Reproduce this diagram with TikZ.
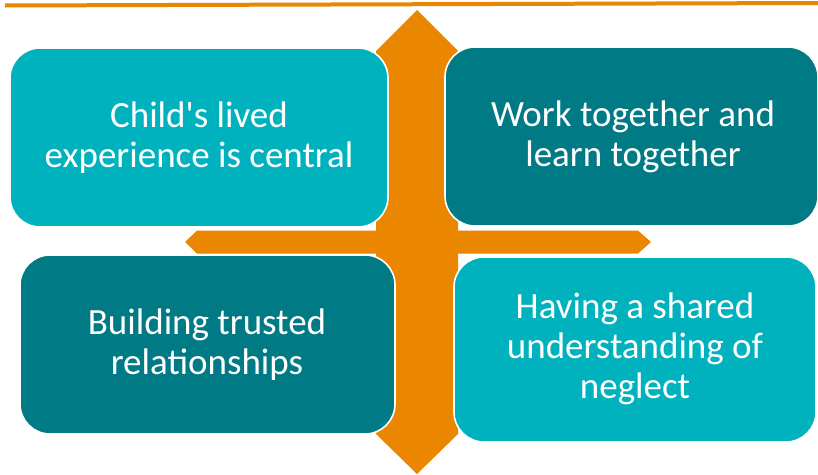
\documentclass[tikz,border=0pt]{standalone}
\usepackage{fontspec}
\setmainfont{Carlito}
\definecolor{crossorange}{RGB}{234,134,0}
\definecolor{lightteal}{RGB}{0,178,190}
\definecolor{darkteal}{RGB}{0,122,132}
\begin{document}
\begin{tikzpicture}[x=1pt,y=-1pt,
  card/.style={draw=white,line width=1.6pt,rounded corners=30pt},
  cardtext/.style={text=white,font=\fontsize{37}{40}\selectfont,align=center},
]
\useasboundingbox (0,0) rectangle (818,474);

% rule across the top
\draw[crossorange,line width=4pt] (5,5.5) -- (818,3);

% four-way arrow behind the cards
\fill[crossorange] (417,10) -- (458,51) -- (458,230.5) -- (638,230.5)
  -- (651,242) -- (638,253.5) -- (458,253.5)
  -- (458,434) -- (417,474) -- (376,434)
  -- (376,253.5) -- (197,253.5) -- (185,242) -- (197,230.5)
  -- (376,230.5) -- (376,51) -- cycle;

% cards
\path[card,fill=lightteal] (10,48) rectangle (388,227);
\path[card,fill=darkteal] (445,47) rectangle (818,226);
\path[card,fill=darkteal] (20,255) rectangle (395,434);
\path[card,fill=lightteal] (454,257) rectangle (816,442);

% card labels
\node[cardtext] (tl) at (199,138) {Child\textquotesingle s lived\\experience is central};
\node[cardtext] (tr) at (633,137) {Work together and\\learn together};
\node[cardtext] (bl) at (207,345) {Building trusted\\relationships};
\node[cardtext] (br) at (635,349) {Having a shared\\understanding of\\neglect};
\end{tikzpicture}
\end{document}
